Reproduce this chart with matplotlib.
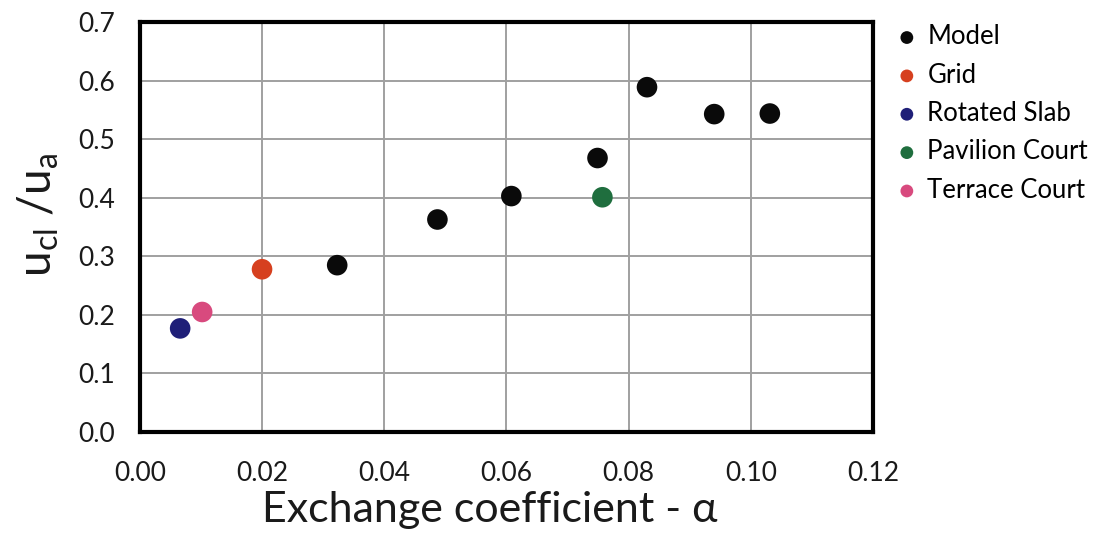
import matplotlib
matplotlib.use("Agg")
import matplotlib.pyplot as plt

# Exchange coefficient (alpha) vs. normalised centreline velocity
model_alpha = [0.0323, 0.0487, 0.0608, 0.0749, 0.0830, 0.0940, 0.1031]
model_ratio = [0.285, 0.363, 0.403, 0.468, 0.589, 0.543, 0.544]

grid_alpha, grid_ratio = [0.0200], [0.278]
slab_alpha, slab_ratio = [0.0066], [0.177]
pavilion_alpha, pavilion_ratio = [0.0757], [0.401]
terrace_alpha, terrace_ratio = [0.0102], [0.205]

series = [
    ("Model", model_alpha, model_ratio, "#0a0a0a"),
    ("Grid", grid_alpha, grid_ratio, "#d6401f"),
    ("Rotated Slab", slab_alpha, slab_ratio, "#1f1f78"),
    ("Pavilion Court", pavilion_alpha, pavilion_ratio, "#1f6e3e"),
    ("Terrace Court", terrace_alpha, terrace_ratio, "#d84a7e"),
]

x_ticks = [0.00, 0.02, 0.04, 0.06, 0.08, 0.10, 0.12]
y_ticks = [0.0, 0.1, 0.2, 0.3, 0.4, 0.5, 0.6, 0.7]

plt.rcParams["font.family"] = ["Lato", "DejaVu Sans"]

fig = plt.figure(figsize=(11.01, 5.35), dpi=100)
ax = fig.add_axes([0.127, 0.1925, 0.666, 0.766])

for label, xs, ys, color in series:
    ax.scatter(xs, ys, s=220, color=color, label=label, zorder=3, edgecolors="none")

ax.set_xlim(0, 0.12)
ax.set_ylim(0, 0.7)
ax.set_xticks(x_ticks)
ax.set_yticks(y_ticks)
ax.set_xticklabels([f"{v:.2f}" for v in x_ticks])
ax.set_yticklabels([f"{v:.1f}" for v in y_ticks])
ax.tick_params(axis="both", length=0, labelsize=19, colors="#1a1a1a")
ax.tick_params(axis="x", pad=21)
ax.tick_params(axis="y", pad=18)

ax.grid(True, color="#a0a0a0", linewidth=1.4)
ax.set_axisbelow(True)
for sp in ax.spines.values():
    sp.set_linewidth(3)
    sp.set_color("black")

ax.set_xlabel("Exchange coefficient - α", fontsize=31, color="#1a1a1a")
ax.xaxis.set_label_coords(0.477, -0.143)
ax.set_ylabel(r"u$_{\mathregular{cl}}$ /u$_{\mathregular{a}}$", fontsize=33, color="#1a1a1a")
ax.yaxis.set_label_coords(-0.108, 0.53)

leg = ax.legend(loc="upper left", bbox_to_anchor=(1.011, 1.02), frameon=False,
                fontsize=18.5, handletextpad=0.2, labelspacing=0.52, markerscale=0.62,
                handlelength=1.2, borderaxespad=0)

fig.savefig("out.png", dpi=100)
